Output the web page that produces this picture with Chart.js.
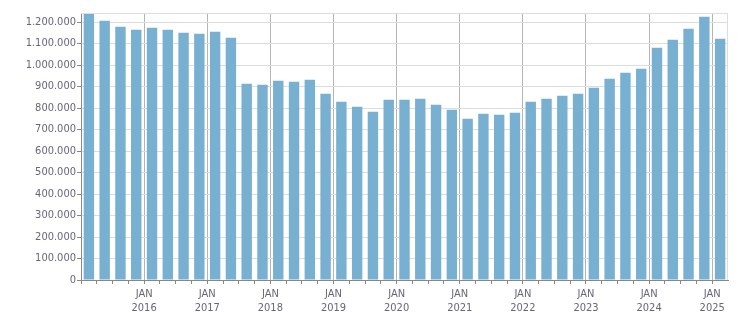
<!DOCTYPE html>
<html>
<head>
<meta charset="utf-8">
<script src="https://cdn.jsdelivr.net/npm/chart.js@4/dist/chart.umd.min.js"></script>
<style>
  html, body { margin: 0; padding: 0; background: #fff; }
  canvas { display: block; }
</style>
</head>
<body>
<canvas id="chart" width="751" height="313"></canvas>
<script>
// ========== Data (quarterly, Q1 2015 .. Q1 2025)
let years = [2015, 2016, 2017, 2018, 2019, 2020, 2021, 2022, 2023, 2024, 2025];
let quarters = [];
years.forEach(y => {
    for (let q = 1; q <= 4; q++) {
        if (y === 2025 && q > 1) break;
        quarters.push(y + ' Q' + q);
    }
});
let values = [
    1240000, 1206000, 1178000, 1164000,
    1173000, 1164000, 1150000, 1146000,
    1155000, 1127000, 913000, 908000,
    927000, 922000, 931000, 866000,
    829000, 806000, 783000, 838000,
    838000, 843000, 815000, 792000,
    750000, 773000, 769000, 778000,
    829000, 843000, 857000, 866000,
    894000, 936000, 964000, 983000,
    1080000, 1118000, 1169000, 1225000,
    1122000
];
let yTicks = [0, 100000, 200000, 300000, 400000, 500000, 600000,
              700000, 800000, 900000, 1000000, 1100000, 1200000];
let yMax = 1242000;

// ========== Colors
let barColor = '#78b0d2';
let gridColor = '#dddddd';
let yearLineColor = '#b4b4b4';
let axisColor = '#888888';
let textColor = '#666677';

let font = { family: '"DejaVu Sans Condensed", "DejaVu Sans", sans-serif', size: 11 };

function fmt(v) {
    return String(v).replace(/\B(?=(\d{3})+(?!\d))/g, '.');
}

// top + right border of the plot area
let frame = {
    id: 'frame',
    afterDraw(chart) {
        let a = chart.chartArea, ctx = chart.ctx;
        ctx.save();
        ctx.strokeStyle = gridColor;
        ctx.lineWidth = 1;
        ctx.beginPath();
        ctx.moveTo(a.left, a.top + 0.5);
        ctx.lineTo(a.right - 0.5, a.top + 0.5);
        ctx.lineTo(a.right - 0.5, a.bottom);
        ctx.stroke();
        ctx.restore();
    }
};

var canvas = document.getElementById('chart');
var myChart = new Chart(canvas, {
    type: 'bar',
    data: {
        labels: quarters,
        datasets: [{
            data: values,
            backgroundColor: barColor,
            categoryPercentage: 1,
            barPercentage: 0.66
        }]
    },
    options: {
        responsive: false,
        animation: false,
        layout: { padding: { top: 13, right: 23, left: 0, bottom: 0 } },
        plugins: { legend: { display: false }, tooltip: { enabled: false } },
        scales: {
            x: {
                offset: true,
                afterFit: s => { s.height = 33; },
                border: { color: axisColor },
                grid: {
                    offset: true,
                    tickLength: 4,
                    color: c => (c.index > 0 && c.index % 4 === 0) ? yearLineColor : 'rgba(0,0,0,0)',
                    tickColor: c => c.index === undefined ? 'rgba(0,0,0,0)' : axisColor
                },
                ticks: {
                    autoSkip: false,
                    maxRotation: 0,
                    minRotation: 0,
                    padding: 4,
                    labelOffset: -7.9,
                    color: textColor,
                    font: font,
                    callback: (v, i) => (i > 0 && i % 4 === 0) ? ['JAN', quarters[i].slice(0, 4)] : ''
                }
            },
            y: {
                min: 0,
                max: yMax,
                afterFit: s => { s.width = 81; },
                afterBuildTicks: s => { s.ticks = yTicks.map(v => ({ value: v })); },
                border: { color: axisColor },
                grid: {
                    color: gridColor,
                    tickColor: axisColor,
                    tickLength: 4
                },
                ticks: {
                    autoSkip: false,
                    padding: 1,
                    color: textColor,
                    font: font,
                    callback: v => fmt(v)
                }
            }
        }
    },
    plugins: [frame]
});
</script>
</body>
</html>
